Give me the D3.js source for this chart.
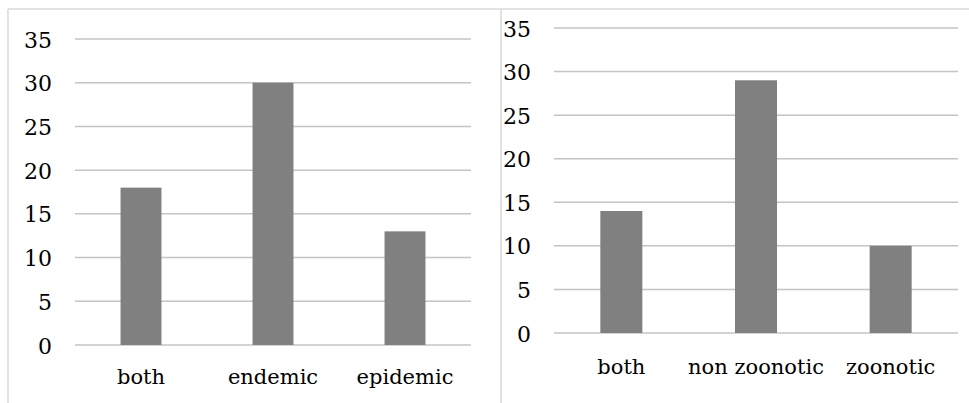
<!DOCTYPE html>
<html>
<head>
<meta charset="utf-8">
<script src="https://cdn.jsdelivr.net/npm/d3@7"></script>
<style>
  html, body { margin: 0; padding: 0; background: #fff; }
</style>
</head>
<body>
<svg id="chart" width="969" height="403"></svg>
<script>
const leftCategories = ["both", "endemic", "epidemic"];
const leftValues = [18, 30, 13];
const rightCategories = ["both", "non zoonotic", "zoonotic"];
const rightValues = [14, 29, 10];
const yTicks = [0, 5, 10, 15, 20, 25, 30, 35];

const XFONT = "21px 'DejaVu Serif', 'Liberation Serif', serif";
const YFONT = "22px 'DejaVu Serif', 'Liberation Serif', serif";
const svg = d3.select("#chart");

// panel frames
const frame = svg.append("g").attr("stroke", "#d9d9d9").attr("stroke-width", 1.5).attr("fill", "none");
frame.append("line").attr("x1", 8).attr("x2", 969).attr("y1", 9).attr("y2", 9);
frame.append("line").attr("x1", 8).attr("x2", 8).attr("y1", 9).attr("y2", 403);
frame.append("line").attr("x1", 501).attr("x2", 501).attr("y1", 9).attr("y2", 403);

function drawPanel(cfg) {
  const x = d3.scaleBand().domain(cfg.categories).range([cfg.x0, cfg.x1])
    .paddingInner(cfg.pad).paddingOuter(cfg.pad / 2);
  const y = d3.scaleLinear().domain([0, 35]).range([cfg.y0, cfg.y1]);
  const g = svg.append("g");

  // gridlines
  g.append("g").selectAll("line").data(yTicks).join("line")
    .attr("x1", cfg.x0).attr("x2", cfg.x1)
    .attr("y1", d => y(d)).attr("y2", d => y(d))
    .attr("stroke", "#c4c4c4").attr("stroke-width", 1.5);

  // y axis labels
  const yAxis = d3.axisLeft(y).tickValues(yTicks).tickSize(0).tickPadding(0);
  const ya = g.append("g").attr("transform", `translate(${cfg.labelX},0)`).call(yAxis);
  ya.attr("font-family", null).attr("font-size", null);
  ya.select(".domain").remove();
  ya.selectAll("text").attr("dy", "8px").attr("fill", "#000").style("font", YFONT);

  // bars
  g.append("g").selectAll("rect").data(cfg.values).join("rect")
    .attr("x", (d, i) => x(cfg.categories[i]))
    .attr("width", x.bandwidth())
    .attr("y", d => y(d))
    .attr("height", d => y(0) - y(d))
    .attr("fill", "#808080");

  // x axis labels
  const xAxis = d3.axisBottom(x).tickSize(0).tickPadding(0);
  const xa = g.append("g").attr("transform", `translate(0,${cfg.xLabelBaseline})`).call(xAxis);
  xa.attr("font-family", null).attr("font-size", null);
  xa.select(".domain").remove();
  xa.selectAll("text").attr("dy", 0).attr("y", 0).attr("fill", "#000").style("font", XFONT);
}

drawPanel({
  categories: leftCategories, values: leftValues,
  x0: 75, x1: 471, y0: 345, y1: 39, pad: 0.69,
  labelX: 52, xLabelBaseline: 384
});
drawPanel({
  categories: rightCategories, values: rightValues,
  x0: 554, x1: 958, y0: 333, y1: 28, pad: 0.688,
  labelX: 531, xLabelBaseline: 374
});
</script>
</body>
</html>
